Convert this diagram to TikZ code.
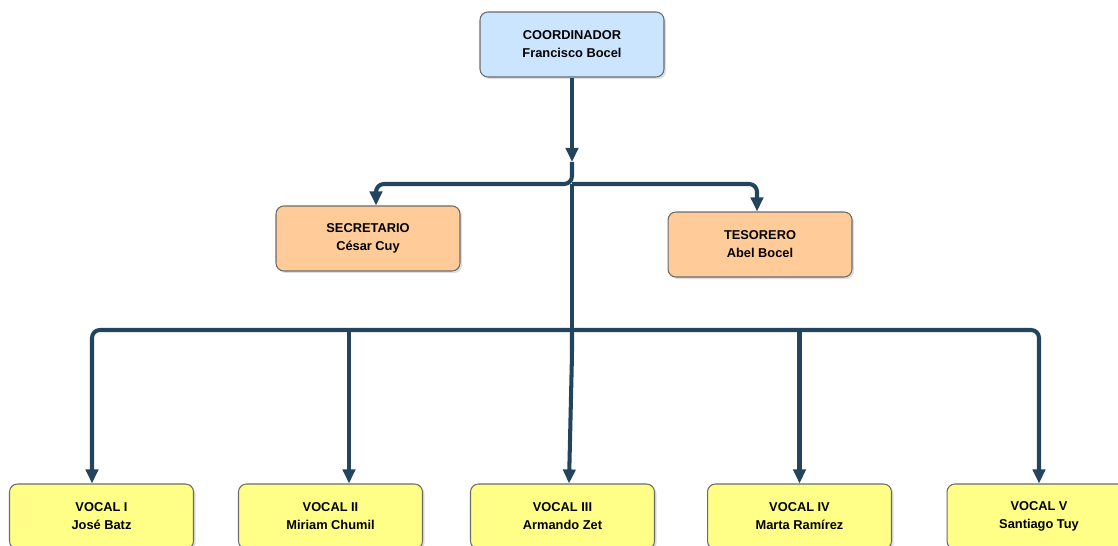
\documentclass[tikz,border=0pt]{standalone}
\usepackage{fontspec}
\setmainfont{Liberation Sans}
\usetikzlibrary{arrows.meta, shadows}
\definecolor{cline}{HTML}{23445D}
\definecolor{cedge}{HTML}{6B6B6B}
\definecolor{cblue}{HTML}{CCE5FF}
\definecolor{corange}{HTML}{FFCC99}
\definecolor{cyellow}{HTML}{FFFF88}
\tikzset{
  every picture/.style={font=\bfseries\fontsize{7.3}{10.2}\selectfont},
  box/.style={draw=cedge, fill=#1, line width=0.6pt, rounded corners=4.5pt, align=center,
              minimum width=3.68cm, minimum height=1.3cm, inner sep=2pt,
              drop shadow={shadow xshift=1.2pt, shadow yshift=-1.2pt, opacity=0.25}},
  box/.default=cyellow,
  link/.style={draw=cline, line width=2.3pt, rounded corners=4.5pt},
  arrow/.style={link, -{Triangle[length=8pt, width=7pt]}},
}

\begin{document}
\begin{tikzpicture}[x=0.02cm, y=-0.02cm]
  \clip (0,0) rectangle (1118,546);
  % boxes
  \node[box=cblue] (coord) at (572,44.5) {COORDINADOR\\ Francisco Bocel};
  \node[box=corange] (secre) at (368,238.5) {SECRETARIO\\ César Cuy};
  \node[box=corange] (teso) at (760,244.5) {TESORERO\\ Abel Bocel};
  \node[box] (v1) at (101.5,516.5) {VOCAL I\\ José Batz};
  \node[box] (v2) at (330.5,516.5) {VOCAL II\\ Miriam Chumil};
  \node[box] (v3) at (562.5,516.5) {VOCAL III\\ Armando Zet};
  \node[box] (v4) at (799.5,516.5) {VOCAL IV\\ Marta Ramírez};
  \node[box] (v5) at (1039,516.5) {VOCAL V\\ Santiago Tuy};
  % junctions
  \coordinate (j0) at (572,162);
  \coordinate (j1) at (572,184);
  \coordinate (j2) at (572,330);
  % connectors
  \draw[arrow] (coord) -- (j0);
  \draw[arrow] (j0) -- (j1) -| ([xshift=0.16cm]secre.north);
  \draw[arrow] (j1) -| ([xshift=-0.06cm]teso.north);
  \draw[link] (j1) -- (j2);
  \draw[arrow] (j2) -| ([xshift=-0.19cm]v1.north);
  \draw[arrow] (j2) -| (v5.north);
  \draw[arrow] ([xshift=0.37cm]v2.north |- j2) -- ([xshift=0.37cm]v2.north);
  \draw[arrow] (j2) -- ++(0,24) -- ([xshift=0.13cm]v3.north);
  \draw[arrow] (v4.north |- j2) -- (v4.north);
\end{tikzpicture}
\end{document}
